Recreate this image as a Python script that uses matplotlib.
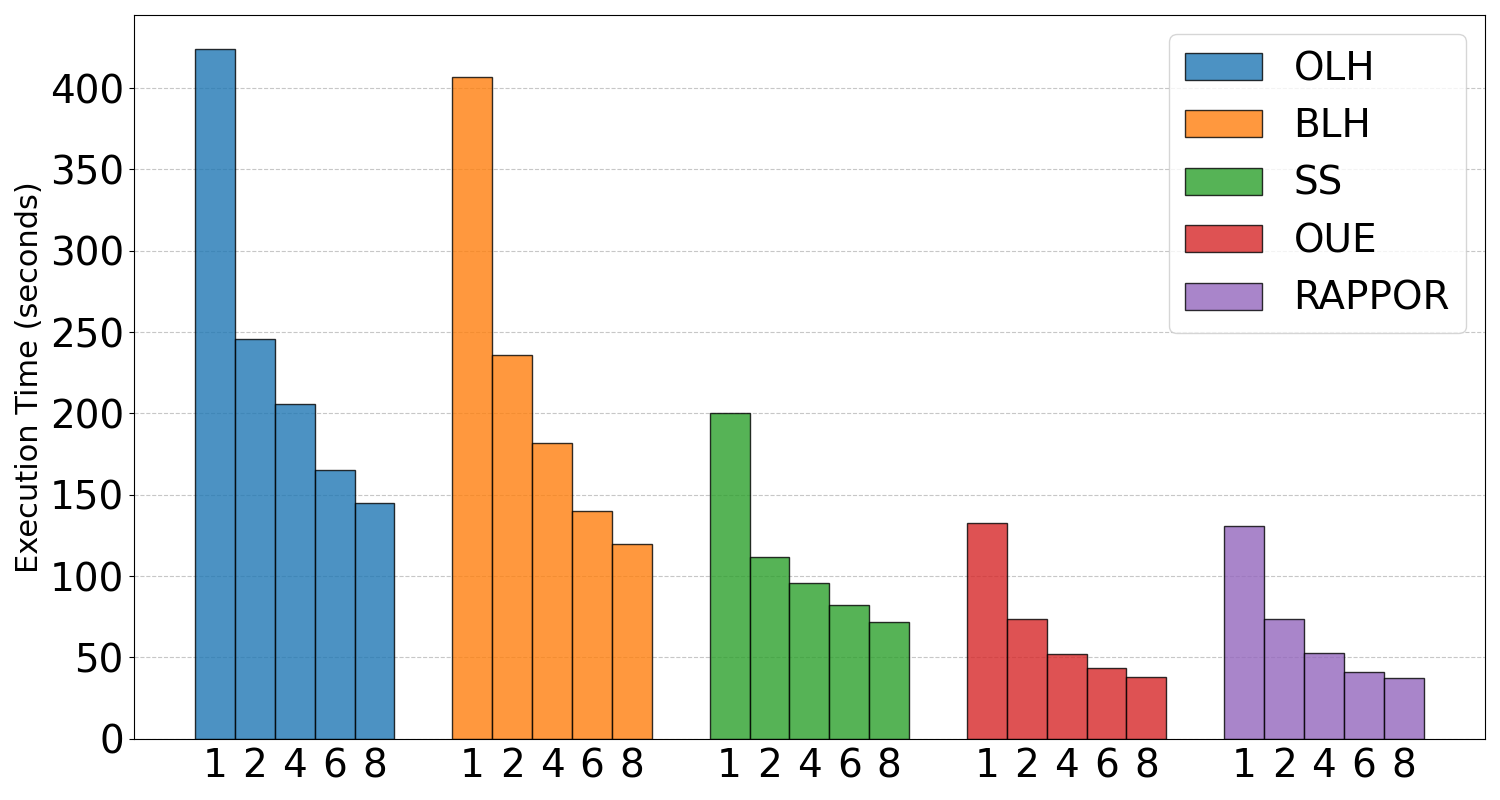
import numpy as np
import matplotlib.pyplot as plt

# Execution time (seconds) per protocol for different worker counts
protocols = ["OLH", "BLH", "SS", "OUE", "RAPPOR"]
workers = ["1", "2", "4", "6", "8"]
olh_times = [424, 246, 206, 165, 145]
blh_times = [407, 236, 182, 140, 120]
ss_times = [200, 112, 96, 82, 72]
oue_times = [132.6, 73.6, 52, 43.5, 37.8]
rappor_times = [130.8, 73.6, 52.7, 41, 37.4]

all_times = [olh_times, blh_times, ss_times, oue_times, rappor_times]
colors = ["#1f77b4", "#ff7f0e", "#2ca02c", "#d62728", "#9467bd"]

fig, ax = plt.subplots(figsize=(15, 8), dpi=100)

width = 0.155
group_pos = np.arange(len(protocols))
offsets = (np.arange(len(workers)) - (len(workers) - 1) / 2) * width

tick_pos = []
tick_lab = []
for i, (name, times) in enumerate(zip(protocols, all_times)):
    x = group_pos[i] + offsets
    ax.bar(x, times, width, color=colors[i], alpha=0.8,
           edgecolor="black", linewidth=1, label=name)
    tick_pos.extend(x)
    tick_lab.extend(workers)

ax.set_xticks(tick_pos)
ax.set_xticklabels(tick_lab, fontsize=28)
ax.tick_params(axis="x", length=0, pad=6)
ax.tick_params(axis="y", labelsize=28)
ax.set_ylabel("Execution Time (seconds)", fontsize=22)
ax.set_ylim(0, 445)
ax.set_yticks(np.arange(0, 401, 50))
ax.grid(axis="y", linestyle="--", alpha=0.7)
ax.set_axisbelow(True)
ax.legend(fontsize=28, loc="upper right")

plt.tight_layout()
plt.savefig("out.png")
